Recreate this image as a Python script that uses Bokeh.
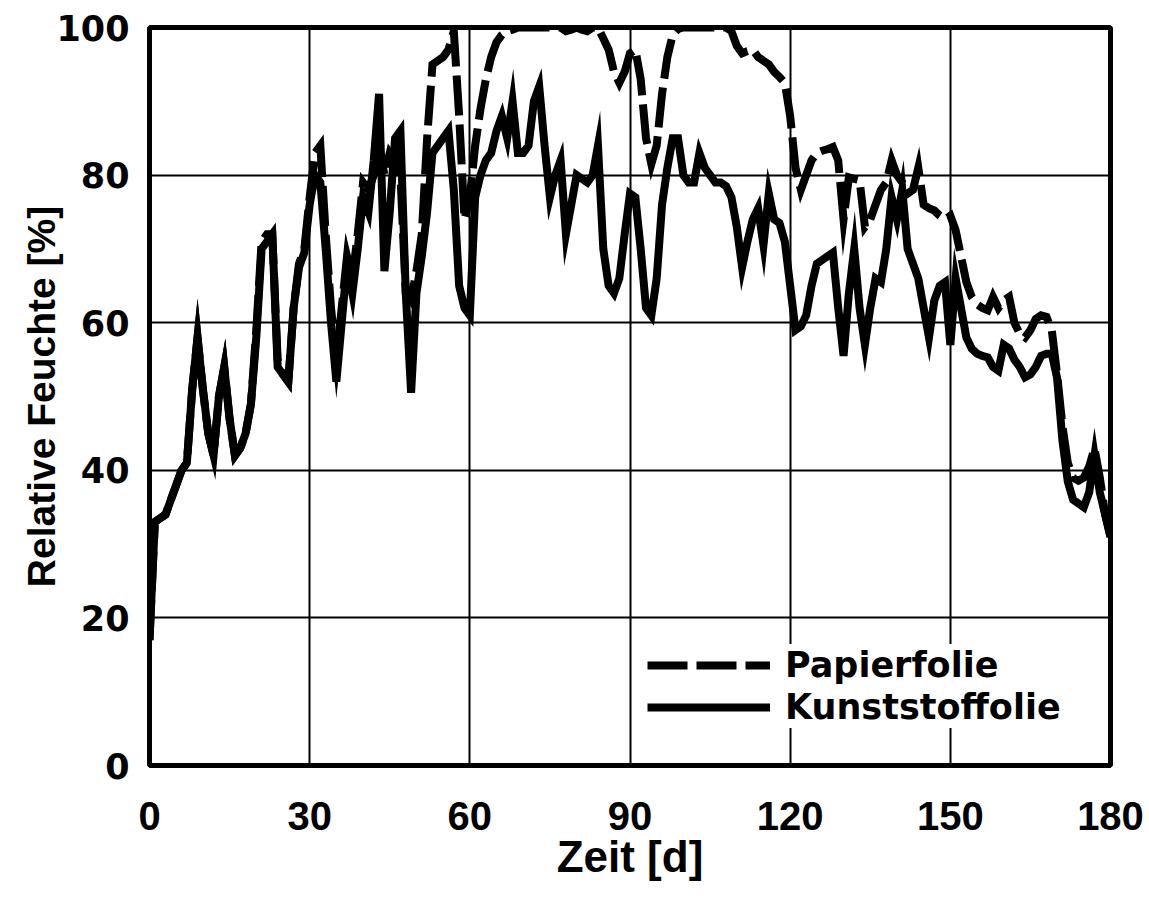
from bokeh.plotting import figure
from bokeh.models import Range1d, FixedTicker, Legend, LegendItem
from bokeh.embed import file_html
from bokeh.resources import INLINE

days = list(range(181))

kunststoffolie = [
    17, 33, 33.5, 34, 36, 38, 40, 41, 51, 58,
    51, 45, 42, 50, 54, 47, 42, 43, 45, 49,
    58, 70, 71, 72, 54, 53, 52, 62, 67.5, 69.5,
    76, 80, 79, 70, 60, 52, 60, 68, 64, 70,
    77, 75, 82, 91, 67, 75, 85, 86, 64, 50.5,
    64, 69, 75, 83, 84, 85, 86, 78, 65, 62,
    61, 77, 80, 82, 83, 86, 88, 85, 90, 83,
    83, 84, 90, 92, 84, 77, 80, 82, 72, 76,
    80, 79.5, 79, 80, 84, 70, 65, 64, 66, 72,
    77.5, 77, 70, 62, 61, 66, 76, 81, 85, 85,
    80, 79, 79, 83, 81, 80, 79, 79, 78.5, 77,
    73, 67.5, 71, 74, 75.5, 70.5, 77.5, 74, 73.5, 71,
    65, 59, 59.5, 61, 65, 68, 68.5, 69, 69.5, 62,
    55.5, 64, 70, 62, 57, 62, 66, 65.5, 70, 77,
    74, 78, 70, 68, 66, 62, 58, 63, 65, 65.5,
    57, 66, 62, 58, 56.5, 55.8, 55.5, 55.3, 54, 53.5,
    57, 56.5, 55, 54, 52.6, 53, 54, 55.5, 55.8, 55.8,
    52.5, 44, 38.5, 36, 35.5, 35, 37, 42, 37, 34,
    31,
]

papierfolie = [
    17, 33, 33.5, 34, 36, 38, 40, 41, 51, 58,
    51, 45, 42, 50, 54, 47, 42, 43, 45, 49,
    59, 71, 72, 72, 55, 53, 52, 62, 68, 70,
    77, 83, 84, 72, 62, 55, 62, 69, 66, 72,
    79, 78, 80, 84, 80, 83, 82, 80, 64, 63,
    67, 72, 85, 95, 95.5, 96, 97, 99.5, 88, 74,
    77, 84, 89, 93, 96, 98, 99, 99.5, 99.7, 100,
    100, 100, 100, 100, 100, 100, 100, 100, 99.5, 99.7,
    100, 99.7, 99.5, 100, 100, 98.5, 97, 94, 92.5, 94,
    96.5, 97, 93, 85, 81.5, 84, 91, 96, 99, 99.8,
    100, 100, 100, 100, 100, 100, 100, 100, 100, 99.5,
    97.5, 96.5, 96.8, 97, 96, 95.5, 95, 94, 93.3, 92.5,
    88, 81, 78, 80, 82, 83, 83.3, 83.5, 83.8, 82,
    74, 79.7, 79.5, 79.3, 73, 74, 76, 78, 79, 82,
    80, 79, 77.5, 78, 81, 76, 75.5, 75.2, 74.5, 74,
    74.5, 72.5, 69, 65.5, 63.5, 62.5, 62, 61.7, 63.5, 62,
    63, 63.5, 60, 58.5, 58, 59, 60.5, 61, 60.8, 59,
    53, 46, 41, 39, 38.6, 39, 40.5, 43, 39, 34,
    31,
]

x_ticks = [0, 30, 60, 90, 120, 150, 180]
y_ticks = [0, 20, 40, 60, 80, 100]
x_label = "Zeit [d]"
y_label = "Relative Feuchte [%]"
series_names = ["Papierfolie", "Kunststoffolie"]

p = figure(width=1149, height=906, output_backend="svg", toolbar_location=None,
           x_range=Range1d(0, 180), y_range=Range1d(0, 100),
           min_border_left=149, min_border_right=39, min_border_top=27,
           min_border_bottom=141)

p.outline_line_color = "black"
p.outline_line_width = 5
p.background_fill_color = "white"
p.border_fill_color = "white"

for ax, ticks in ((p.xaxis[0], x_ticks), (p.yaxis[0], y_ticks)):
    ax.ticker = FixedTicker(ticks=ticks)
    ax.axis_line_color = None
    ax.major_tick_line_color = None
    ax.minor_tick_line_color = None
    ax.major_label_text_color = "black"
    ax.axis_label_text_color = "black"
    ax.axis_label_text_font_style = "bold"
    ax.major_label_text_font_style = "bold"

p.xaxis.major_label_text_font = "Liberation Sans"
p.xaxis.major_label_text_font_size = "40px"
p.xaxis.major_label_standoff = 30
p.xaxis.axis_label = x_label
p.xaxis.axis_label_text_font = "Liberation Sans"
p.xaxis.axis_label_text_font_size = "44px"
p.xaxis.axis_label_standoff = -1

p.yaxis.major_label_text_font = "DejaVu Sans"
p.yaxis.major_label_text_font_size = "35px"
p.yaxis.major_label_standoff = 14
p.yaxis.axis_label = y_label
p.yaxis.axis_label_text_font = "Liberation Sans"
p.yaxis.axis_label_text_font_size = "39px"
p.yaxis.axis_label_standoff = -10

for g, ticks in ((p.xgrid[0], x_ticks), (p.ygrid[0], y_ticks)):
    g.ticker = FixedTicker(ticks=ticks)
    g.grid_line_color = "black"
    g.grid_line_width = 2
    g.grid_line_alpha = 1

r_pap = p.line(days, papierfolie, line_color="black", line_width=8,
               line_dash="40 9", line_join="miter")
r_kun = p.line(days, kunststoffolie, line_color="black", line_width=8,
               line_join="miter")

legend = Legend(items=[LegendItem(label=series_names[0], renderers=[r_pap]),
                       LegendItem(label=series_names[1], renderers=[r_kun])],
                location=(498, 37))
legend.background_fill_color = "white"
legend.background_fill_alpha = 1
legend.border_line_color = None
legend.label_text_font = "DejaVu Sans"
legend.label_text_font_style = "bold"
legend.label_text_font_size = "35px"
legend.label_text_color = "black"
legend.glyph_width = 123
legend.glyph_height = 42
legend.label_height = 42
legend.label_standoff = 15
legend.spacing = 0
legend.padding = 10
legend.margin = 0
p.add_layout(legend, "center")

open("out.html", "w").write(file_html(p, INLINE))
